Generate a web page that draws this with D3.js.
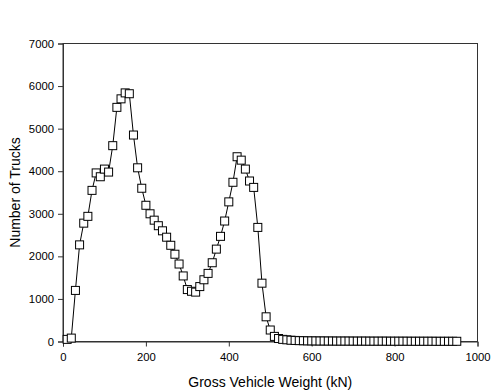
<html>
<head>
<meta charset="utf-8">
<script src="https://d3js.org/d3.v7.min.js"></script>
<style>
body{margin:0;padding:0;background:white;}
text{font-family:"Liberation Sans", Arial, sans-serif;}
</style>
</head>
<body>
<svg id="chart" width="500" height="392"></svg>
<script>
// gross vehicle weight bins (kN), every 10 from 10 to 950
var weights = d3.range(10, 960, 10);
var trucks = [
    50, 80, 1200, 2270, 2780, 2940, 3550, 3960, 3870, 4050,
    3980, 4600, 5500, 5700, 5840, 5820, 4850, 4080, 3600, 3200,
    3000, 2850, 2720, 2600, 2450, 2260, 2050, 1820, 1540, 1220,
    1180, 1160, 1290, 1450, 1600, 1850, 2170, 2470, 2830, 3280,
    3740, 4340, 4260, 4050, 3770, 3620, 2680, 1370, 580, 270,
    120, 70, 50, 40, 30, 25, 20, 18, 15, 14,
    13, 12, 12, 11, 11, 10, 10, 10, 10, 9,
    9, 9, 9, 8, 8, 8, 8, 8, 7, 7,
    7, 7, 7, 6, 6, 6, 6, 6, 6, 5,
    5, 5, 5, 5, 5
];
var xTicks = [0, 200, 400, 600, 800, 1000];
var yTicks = [0, 1000, 2000, 3000, 4000, 5000, 6000, 7000];

var plotLeft = 63, plotRight = 477.5, plotTop = 43.5, plotBottom = 341.5;
var svg = d3.select("#chart");

var x = d3.scaleLinear().domain([0, 1000]).range([plotLeft, plotRight]);
var y = d3.scaleLinear().domain([0, 7000]).range([plotBottom, plotTop]);

// frame
svg.append("rect")
    .attr("x", plotLeft).attr("y", plotTop)
    .attr("width", plotRight - plotLeft).attr("height", plotBottom - plotTop)
    .attr("fill", "none").attr("stroke", "#333").attr("stroke-width", 1);

var xAxis = svg.append("g")
    .attr("transform", "translate(0," + plotBottom + ")")
    .call(d3.axisBottom(x).tickValues(xTicks).tickSize(5).tickPadding(6).tickFormat(d3.format("d")));
var yAxis = svg.append("g")
    .attr("transform", "translate(" + plotLeft + ",0)")
    .call(d3.axisLeft(y).tickValues(yTicks).tickSize(5).tickPadding(4).tickFormat(d3.format("d")));

[xAxis, yAxis].forEach(function(a) {
    a.select(".domain").attr("stroke", "#333");
    a.selectAll(".tick line").attr("stroke", "#333");
    a.selectAll(".tick text")
        .attr("fill", "#000")
        .style("font-size", "11.3px")
        .style("font-family", "'Liberation Sans', Arial, sans-serif");
});

// line
var line = d3.line()
    .x(function(d, i) { return x(weights[i]); })
    .y(function(d) { return y(d); });

svg.append("path")
    .datum(trucks)
    .attr("d", line)
    .attr("fill", "none")
    .attr("stroke", "#000")
    .attr("stroke-width", 1);

// square markers
var s = 8;
svg.selectAll("rect.pt").data(trucks).enter().append("rect")
    .attr("class", "pt")
    .attr("x", function(d, i) { return x(weights[i]) - s / 2; })
    .attr("y", function(d) { return y(d) - s / 2; })
    .attr("width", s).attr("height", s)
    .attr("fill", "white")
    .attr("stroke", "#000")
    .attr("stroke-width", 1);

// axis titles
svg.append("text")
    .attr("x", (plotLeft + plotRight) / 2).attr("y", 387)
    .attr("text-anchor", "middle")
    .style("font-size", "14px")
    .text("Gross Vehicle Weight (kN)");

svg.append("text")
    .attr("transform", "translate(20," + (plotTop + plotBottom) / 2 + ") rotate(-90)")
    .attr("text-anchor", "middle")
    .style("font-size", "14px")
    .text("Number of Trucks");
</script>
</body>
</html>
